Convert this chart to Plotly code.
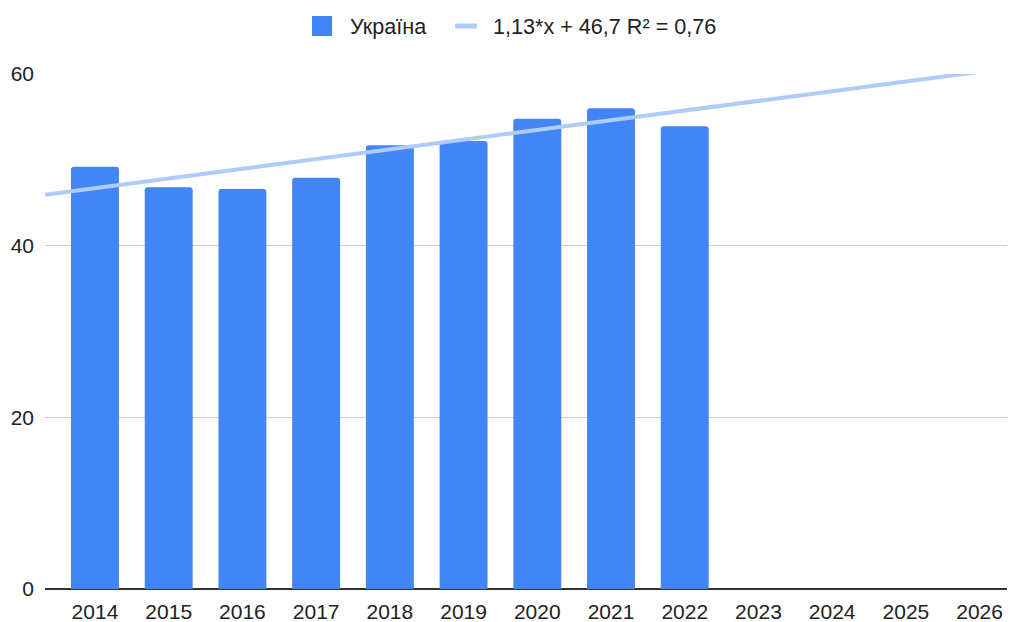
import plotly.graph_objects as go

years = ["2014", "2015", "2016", "2017", "2018", "2019", "2020", "2021", "2022",
         "2023", "2024", "2025", "2026"]
ukraine = [49.2, 46.8, 46.6, 47.9, 51.7, 52.2, 54.8, 56.0, 53.9]
trend_slope = 1.13
trend_intercept = 46.7
trend_label = "1,13*x + 46,7 R² = 0,76"
series_name = "Україна"

BAR_COLOR = "#4285F4"
TREND_COLOR = "#AECBFA"
FONT = "Liberation Sans, Arial, sans-serif"
FS = 21

x_idx = list(range(len(years)))
x_lo, x_hi = -0.678, 12.48
trend_x = [x_lo, x_hi]
trend_y = [trend_intercept + trend_slope * v for v in trend_x]

# layout geometry (page body adds an 8px offset)
L, R, T, B = 37, 8, 66, 41
W, H = 1015, 622
PW = W - L - R
PH = H - T - B


def px(fx):
    return (fx - L) / PW


def py(fy):
    return (H - B - fy) / PH


fig = go.Figure()
fig.add_trace(go.Bar(
    x=x_idx[:len(ukraine)], y=ukraine, name=series_name,
    marker=dict(color=BAR_COLOR, cornerradius=3, line=dict(width=0)),
    width=0.65, showlegend=False,
))
fig.add_trace(go.Scatter(
    x=trend_x, y=trend_y, mode="lines", name=trend_label,
    line=dict(color=TREND_COLOR, width=4), showlegend=False,
))

# custom legend
shapes = [
    dict(type="rect", xref="paper", yref="paper",
         x0=px(304), x1=px(324), y0=py(28), y1=py(8),
         fillcolor=BAR_COLOR, line=dict(width=0), layer="above"),
    dict(type="line", xref="paper", yref="paper",
         x0=px(447), x1=px(469), y0=py(18), y1=py(18),
         line=dict(color=TREND_COLOR, width=5), layer="above"),
]
annotations = [
    dict(text=series_name, xref="paper", yref="paper", x=px(340), y=py(18),
         xanchor="left", yanchor="middle", showarrow=False,
         font=dict(family=FONT, size=21.6, color="#222222")),
    dict(text=trend_label, xref="paper", yref="paper", x=px(483), y=py(18),
         xanchor="left", yanchor="middle", showarrow=False,
         font=dict(family=FONT, size=21.6, color="#222222")),
]

fig.update_layout(
    width=W, height=H,
    margin=dict(l=L, r=R, t=T, b=B, autoexpand=False),
    paper_bgcolor="white", plot_bgcolor="white",
    font=dict(family=FONT, size=FS, color="#222222"),
    showlegend=False,
    shapes=shapes, annotations=annotations,
)
fig.update_xaxes(
    range=[x_lo, x_hi], tickmode="array", tickvals=x_idx, ticktext=years,
    showgrid=False, zeroline=False, showline=False, ticks="",
    ticklabelstandoff=8, automargin=False,
)
fig.update_yaxes(
    range=[0, 60], tickvals=[0, 20, 40, 60], showgrid=True, gridcolor="#CCCCCC",
    gridwidth=1, zeroline=True, zerolinecolor="#333333", zerolinewidth=1.5,
    ticks="", ticklabelstandoff=10, automargin=False,
)
fig.write_html("out.html")
